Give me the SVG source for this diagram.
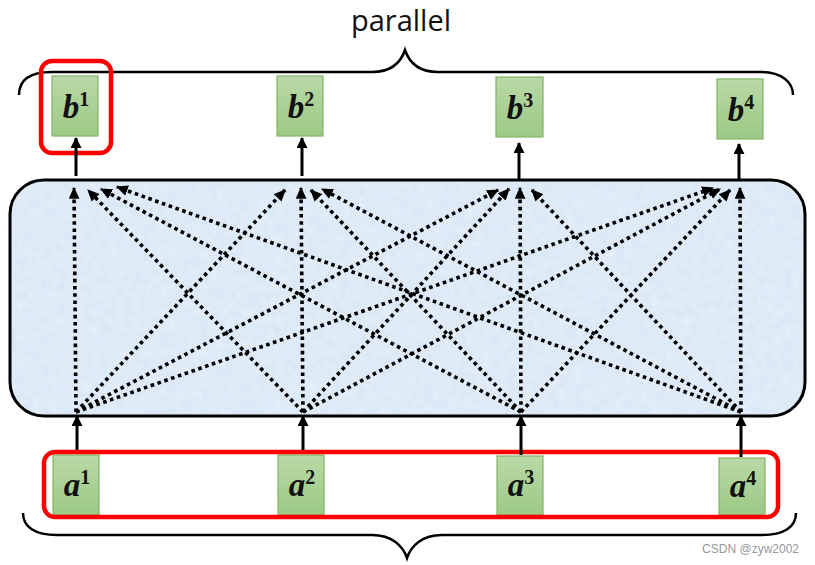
<svg xmlns="http://www.w3.org/2000/svg" width="815" height="565" viewBox="0 0 815 565">
<style>
.brace{fill:none;stroke:#000;stroke-width:2.5}
.box{fill:url(#g);stroke:#82b366;stroke-width:1.2}
.lbl{font-family:"Liberation Serif","DejaVu Serif",serif;font-weight:bold;font-style:italic;font-size:33px;fill:#111}
.sup{font-size:20px;font-style:normal}
.dot{stroke:#000;stroke-width:3.6;stroke-dasharray:3.6 3.6;fill:none;marker-end:url(#ah)}
.solid{stroke:#000;stroke-width:3;fill:none;marker-end:url(#sh)}
.red{fill:none;stroke:#f00;stroke-width:4.5}
</style>
<defs>
<linearGradient id="g" x1="0" y1="0" x2="0" y2="1">
<stop offset="0" stop-color="#b9d9a6"/>
<stop offset="1" stop-color="#9cc985"/>
</linearGradient>
<marker id="ah" viewBox="0 0 10 9" refX="9" refY="4.5" markerWidth="12" markerHeight="11" markerUnits="userSpaceOnUse" orient="auto">
<path d="M0,0 L10,4.5 L0,9 z" fill="#000"/>
</marker>
<marker id="sh" viewBox="0 0 10 10" refX="9" refY="5" markerWidth="13" markerHeight="11" markerUnits="userSpaceOnUse" orient="auto">
<path d="M0,0 L10,5 L0,10 z" fill="#000"/>
</marker>
<filter id="tex" x="0" y="0" width="100%" height="100%">
<feTurbulence type="fractalNoise" baseFrequency="0.12" numOctaves="2" seed="3" result="n"/>
<feColorMatrix in="n" type="matrix" values="0 0 0 0 0.86  0 0 0 0 0.92  0 0 0 0 0.98  0 0 0 -0.9 0.75" result="c"/>
<feComposite in="c" in2="SourceGraphic" operator="in"/>
</filter>
</defs>

<text x="401" y="31" text-anchor="middle" font-family="'Open Sans','Noto Sans',sans-serif" font-size="29" fill="#111">parallel</text>

<path class="brace" d="M19,95 C19,80 30,72 52,72 L372,72 C392,72 401,62 405,50 C409,62 418,72 438,72 L760,72 C782,72 793,82 793,95"/>
<path class="brace" d="M23,513 C23,527 35,535 57,535 L372,535 C392,535 403,546 407,558 C411,546 422,535 442,535 L762,535 C784,535 796,527 796,513"/>

<g id="transformer">
<rect x="10" y="180" width="795" height="236" rx="34" fill="#d9e7f5" stroke="none"/>
<rect x="10" y="180" width="795" height="236" rx="34" fill="#d9e7f5" filter="url(#tex)" opacity="0.8"/>
<rect x="10" y="180" width="795" height="236" rx="34" fill="none" stroke="#000" stroke-width="3"/>
</g>

<g id="b1"><rect class="box" x="52" y="76" width="46" height="60"/><text class="lbl" x="76" y="118" text-anchor="middle">b<tspan class="sup" dy="-12">1</tspan></text></g>
<g id="b2"><rect class="box" x="277" y="76" width="46" height="60"/><text class="lbl" x="301" y="118" text-anchor="middle">b<tspan class="sup" dy="-12">2</tspan></text></g>
<g id="b3"><rect class="box" x="496" y="77" width="47" height="60"/><text class="lbl" x="520" y="119" text-anchor="middle">b<tspan class="sup" dy="-12">3</tspan></text></g>
<g id="b4"><rect class="box" x="717" y="79" width="46" height="60"/><text class="lbl" x="741" y="121" text-anchor="middle">b<tspan class="sup" dy="-12">4</tspan></text></g>

<g id="highlight-b1"><rect class="red" x="41" y="61" width="70" height="92" rx="11"/></g>

<g id="a1"><rect class="box" x="53" y="455" width="46" height="60"/><text class="lbl" x="77" y="496" text-anchor="middle">a<tspan class="sup" dy="-12">1</tspan></text></g>
<g id="a2"><rect class="box" x="278" y="455" width="46" height="60"/><text class="lbl" x="302" y="496" text-anchor="middle">a<tspan class="sup" dy="-12">2</tspan></text></g>
<g id="a3"><rect class="box" x="497" y="456" width="46" height="59"/><text class="lbl" x="521" y="496" text-anchor="middle">a<tspan class="sup" dy="-12">3</tspan></text></g>
<g id="a4"><rect class="box" x="719" y="458" width="46" height="57"/><text class="lbl" x="743" y="497" text-anchor="middle">a<tspan class="sup" dy="-12">4</tspan></text></g>

<g id="highlight-a"><rect class="red" x="44" y="452" width="734" height="65" rx="11"/></g>

<g id="connectors">
<line class="solid" x1="76" y1="176" x2="76" y2="138"/>
<line class="solid" x1="302" y1="176" x2="302" y2="138"/>
<line class="solid" x1="519" y1="180" x2="519" y2="143"/>
<line class="solid" x1="739" y1="180" x2="739" y2="144"/>
<line class="solid" x1="77" y1="450" x2="77" y2="416"/>
<line class="solid" x1="303" y1="450" x2="303" y2="416"/>
<line class="solid" x1="521" y1="455" x2="521" y2="416"/>
<line class="solid" x1="741" y1="457" x2="741" y2="416"/>

<line class="dot" x1="76" y1="412" x2="74" y2="188"/>
<line class="dot" x1="303" y1="412" x2="88" y2="190"/>
<line class="dot" x1="521" y1="412" x2="101" y2="189"/>
<line class="dot" x1="741" y1="412" x2="117" y2="187"/>

<line class="dot" x1="76" y1="412" x2="285" y2="190"/>
<line class="dot" x1="303" y1="412" x2="301" y2="188"/>
<line class="dot" x1="521" y1="412" x2="311" y2="190"/>
<line class="dot" x1="741" y1="412" x2="322" y2="189"/>

<line class="dot" x1="76" y1="412" x2="498" y2="190"/>
<line class="dot" x1="303" y1="412" x2="509" y2="189"/>
<line class="dot" x1="521" y1="412" x2="520" y2="188"/>
<line class="dot" x1="741" y1="412" x2="532" y2="190"/>

<line class="dot" x1="76" y1="412" x2="713" y2="188"/>
<line class="dot" x1="303" y1="412" x2="720" y2="189"/>
<line class="dot" x1="521" y1="412" x2="730" y2="190"/>
<line class="dot" x1="741" y1="412" x2="740" y2="188"/>
</g>

<text x="799" y="553" text-anchor="end" font-family="'Liberation Sans',Arial,sans-serif" font-size="12" fill="#999">CSDN @zyw2002</text>
</svg>
